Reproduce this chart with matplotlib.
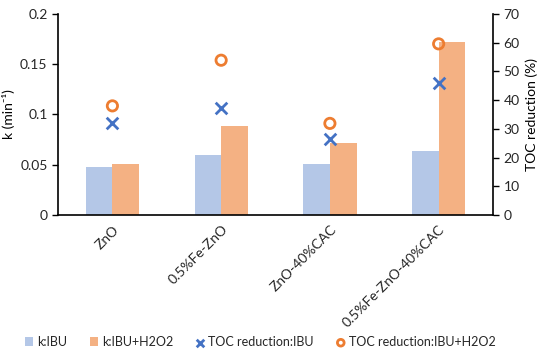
import matplotlib
matplotlib.use("Agg")
import matplotlib.pyplot as plt
import numpy as np

categories = ["ZnO", "0.5%Fe-ZnO", "ZnO-40%CAC", "0.5%Fe-ZnO-40%CAC"]
k_ibu = [0.048, 0.0597, 0.051, 0.0634]
k_ibu_h2o2 = [0.0504, 0.0889, 0.072, 0.1725]
toc_ibu = [31.9, 37.4, 26.4, 45.9]
toc_ibu_h2o2 = [38.0, 53.9, 31.9, 59.6]

plt.rcParams['font.family'] = ['Lato', 'DejaVu Sans']
plt.rcParams['font.size'] = 10
plt.rcParams['text.color'] = '#262626'
plt.rcParams['xtick.labelcolor'] = '#262626'
plt.rcParams['ytick.labelcolor'] = '#262626'

fig = plt.figure(figsize=(5.5, 3.57), dpi=100)
ax = fig.add_axes([0.1055, 0.3978, 0.7909, 0.563])
x = np.arange(len(categories))
w = 0.245
ax.bar(x - w/2, k_ibu, w, color="#B4C7E7", label="k:IBU")
ax.bar(x + w/2, k_ibu_h2o2, w, color="#F4B183", label="k:IBU+H2O2")
ax.set_xlim(-0.5, 3.5)
ax.set_ylim(0, 0.2)
ax.set_yticks([0, 0.05, 0.1, 0.15, 0.2])
ax.set_yticklabels(["0", "0.05", "0.1", "0.15", "0.2"])
ax.set_xticks(x)
ax.set_xticklabels(categories, rotation=45, ha="right", rotation_mode="anchor")
ax.tick_params(axis="x", length=0, pad=6)
ax.tick_params(axis="y", length=4, width=1, direction="out", labelsize=10)
ax.set_ylabel("k (min\u207b\u00b9)", fontsize=10, labelpad=4)
ax.spines["top"].set_visible(False)
ax.spines["right"].set_visible(False)
for s in ["left", "bottom"]:
    ax.spines[s].set_linewidth(1.2)
    ax.spines[s].set_color("black")

ax2 = ax.twinx()
ax2.scatter(x, toc_ibu, marker="x", s=70, color="#4472C4", linewidths=2, label="TOC reduction:IBU", zorder=5)
ax2.scatter(x, toc_ibu_h2o2, marker="o", s=55, facecolors="none", edgecolors="#ED7D31", linewidths=2, label="TOC reduction:IBU+H2O2", zorder=5)
ax2.set_ylim(0, 70)
ax2.set_yticks(range(0, 71, 10))
ax2.set_ylabel("TOC reduction (%)", fontsize=10)
ax2.tick_params(axis="y", length=4, width=1, direction="out", labelsize=10)
ax2.spines["top"].set_visible(False)
ax2.spines["left"].set_visible(False)
ax2.spines["bottom"].set_visible(False)
ax2.spines["right"].set_linewidth(1.2)

h1, l1 = ax.get_legend_handles_labels()
h2, l2 = ax2.get_legend_handles_labels()
fig.legend(h1 + h2, l1 + l2, loc="center", bbox_to_anchor=(0.473, 0.042), ncol=4,
           frameon=False, handlelength=0.7, handleheight=0.7, handletextpad=0.3,
           columnspacing=1.8, fontsize=9, markerscale=0.65)

fig.savefig("out.png", dpi=100)
